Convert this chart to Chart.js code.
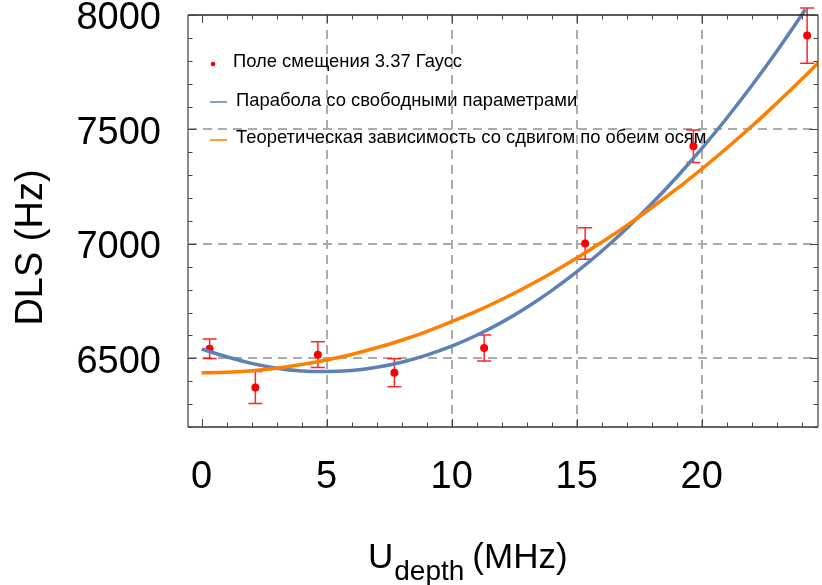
<!DOCTYPE html>
<html lang="ru">
<head>
<meta charset="utf-8">
<title>DLS (Hz) от U depth (MHz)</title>
<script src="https://cdn.jsdelivr.net/npm/chart.js@4.4.0/dist/chart.umd.min.js"></script>
<style>
  html, body { margin: 0; padding: 0; background: #fff; }
  #wrap { width: 822px; height: 585px; }
</style>
</head>
<body>
<div id="wrap"><canvas id="dlsChart" width="822" height="585"></canvas></div>
<script>
  // Экспериментальные точки (поле смещения 3.37 Гаусс)
  const pointX = [0.32, 2.15, 4.65, 7.71, 11.30, 15.34, 19.67, 24.22];
  const pointY = [6542, 6373, 6516, 6437, 6545, 7002, 7427, 7910];
  const pointErr = [43, 70, 56, 61, 57, 69, 71, 121];

  // Парабола со свободными параметрами
  const blueX = [0, 1, 2, 3, 4, 5, 6, 7, 8, 9, 10, 11, 12, 13, 14, 15, 16, 17, 18, 19, 20, 21, 22, 23, 24, 24.15];
  const blueY = [6540, 6507, 6478, 6457, 6445, 6442, 6447, 6461, 6483, 6514, 6553, 6601, 6657, 6722, 6796, 6878,
                 6968, 7067, 7175, 7291, 7416, 7549, 7691, 7841, 8000, 8025];

  // Теоретическая зависимость со сдвигом по обеим осям
  const orangeX = [0, 1, 2, 3, 4, 5, 6, 7, 8, 9, 10, 11, 12, 13, 14, 15, 16, 17, 18, 19, 20, 21, 22, 23, 24, 25];
  const orangeY = [6437, 6439, 6446, 6457, 6473, 6493, 6517, 6546, 6579, 6617, 6660, 6706, 6757, 6813, 6873, 6938,
                   7007, 7080, 7158, 7240, 7327, 7418, 7514, 7614, 7719, 7828];

  // Подписи делений
  const xTickLabels = [0, 5, 10, 15, 20];
  const yTickLabels = [6500, 7000, 7500, 8000];

  const legendLabels = [
    'Поле смещения 3.37 Гаусс',
    'Парабола со свободными параметрами',
    'Теоретическая зависимость со сдвигом по обеим осям'
  ];

  const BLUE = '#5E81B5';
  const ORANGE = '#FF8000';
  const RED = '#FF0000';
  const FONT = '"Liberation Sans", Arial, sans-serif';

  Chart.defaults.font.family = FONT;

  const toXY = (xs, ys) => xs.map((x, i) => ({ x: x, y: ys[i] }));

  // Рамка, сетка, засечки, планки погрешностей, легенда и подписи осей
  const framePlugin = {
    id: 'frame',
    beforeDatasetsDraw(chart) {
      const { ctx, chartArea: a, scales: { x, y } } = chart;
      ctx.save();

      // Пунктирная сетка
      ctx.strokeStyle = '#ababab';
      ctx.lineWidth = 2;
      ctx.setLineDash([9, 6]);
      x.ticks.forEach(t => {
        if (t.value % 5 === 0 && t.value !== 0) {
          const px = Math.round(x.getPixelForValue(t.value));
          ctx.beginPath();
          ctx.moveTo(px, a.top);
          ctx.lineTo(px, a.bottom);
          ctx.stroke();
        }
      });
      y.ticks.forEach(t => {
        if (t.value % 500 === 0 && t.value !== 8000) {
          const py = Math.round(y.getPixelForValue(t.value));
          ctx.beginPath();
          ctx.moveTo(a.left, py);
          ctx.lineTo(a.right, py);
          ctx.stroke();
        }
      });
      ctx.setLineDash([]);

      // Планки погрешностей
      ctx.strokeStyle = 'rgba(255, 0, 0, 0.85)';
      ctx.lineWidth = 1.5;
      pointX.forEach((v, i) => {
        const px = x.getPixelForValue(v);
        const top = y.getPixelForValue(pointY[i] + pointErr[i]);
        const bottom = y.getPixelForValue(pointY[i] - pointErr[i]);
        ctx.beginPath();
        ctx.moveTo(px, top);
        ctx.lineTo(px, bottom);
        ctx.moveTo(px - 7, top);
        ctx.lineTo(px + 7, top);
        ctx.moveTo(px - 7, bottom);
        ctx.lineTo(px + 7, bottom);
        ctx.stroke();
      });
      ctx.restore();
    },
    afterDatasetsDraw(chart) {
      const { ctx, chartArea: a, scales: { x, y } } = chart;
      ctx.save();

      // Рамка
      ctx.lineWidth = 1.5;
      ctx.strokeStyle = '#222';
      ctx.beginPath();
      ctx.moveTo(a.left, a.top);
      ctx.lineTo(a.right, a.top);
      ctx.stroke();
      ctx.strokeStyle = '#333';
      ctx.beginPath();
      ctx.moveTo(a.left, a.bottom);
      ctx.lineTo(a.right, a.bottom);
      ctx.stroke();
      ctx.strokeStyle = '#666';
      ctx.beginPath();
      ctx.moveTo(a.left, a.top);
      ctx.lineTo(a.left, a.bottom);
      ctx.moveTo(a.right, a.top);
      ctx.lineTo(a.right, a.bottom);
      ctx.stroke();

      // Засечки внутрь рамки
      ctx.lineWidth = 1;
      ctx.strokeStyle = '#444';
      ctx.beginPath();
      x.ticks.forEach(t => {
        const px = Math.round(x.getPixelForValue(t.value)) + 0.5;
        const len = t.value % 5 === 0 ? 8 : 4.5;
        ctx.moveTo(px, a.bottom);
        ctx.lineTo(px, a.bottom - len);
        ctx.moveTo(px, a.top);
        ctx.lineTo(px, a.top + len);
      });
      y.ticks.forEach(t => {
        const py = Math.round(y.getPixelForValue(t.value)) + 0.5;
        const len = t.value % 500 === 0 ? 8 : 4.5;
        ctx.moveTo(a.left, py);
        ctx.lineTo(a.left + len, py);
        ctx.moveTo(a.right, py);
        ctx.lineTo(a.right - len, py);
      });
      ctx.stroke();

      // Легенда
      ctx.fillStyle = RED;
      ctx.beginPath();
      ctx.arc(213, 64, 2.3, 0, Math.PI * 2);
      ctx.fill();
      ctx.lineWidth = 1.5;
      ctx.strokeStyle = BLUE;
      ctx.beginPath();
      ctx.moveTo(210, 102);
      ctx.lineTo(227, 102);
      ctx.stroke();
      ctx.strokeStyle = ORANGE;
      ctx.beginPath();
      ctx.moveTo(210, 140);
      ctx.lineTo(227, 140);
      ctx.stroke();

      ctx.fillStyle = '#000';
      ctx.font = '18.4px ' + FONT;
      ctx.textAlign = 'left';
      ctx.textBaseline = 'middle';
      ctx.fillText(legendLabels[0], 233, 62);
      ctx.fillText(legendLabels[1], 236, 100.5);
      ctx.fillText(legendLabels[2], 236, 137.5);

      // Подпись оси Y
      ctx.save();
      ctx.translate(32, 247.5);
      ctx.rotate(-Math.PI / 2);
      ctx.font = '38px ' + FONT;
      ctx.textAlign = 'center';
      ctx.fillText('DLS (Hz)', 0, 0);
      ctx.restore();

      // Подпись оси X с нижним индексом
      ctx.textBaseline = 'alphabetic';
      ctx.font = '35px ' + FONT;
      let cx = 368;
      ctx.fillText('U', cx, 568);
      cx += ctx.measureText('U').width + 1;
      ctx.font = '28px ' + FONT;
      ctx.fillText('depth', cx, 580);
      cx += ctx.measureText('depth').width + 8;
      ctx.font = '35px ' + FONT;
      ctx.fillText('(MHz)', cx, 568);

      ctx.restore();
    }
  };

  const ctx = document.getElementById('dlsChart').getContext('2d');
  const dlsChart = new Chart(ctx, {
    type: 'scatter',
    data: {
      datasets: [
        {
          label: legendLabels[1],
          data: toXY(blueX, blueY),
          showLine: true,
          borderColor: BLUE,
          borderWidth: 3.5,
          pointRadius: 0,
          cubicInterpolationMode: 'monotone',
          clip: false,
          order: 1
        },
        {
          label: legendLabels[2],
          data: toXY(orangeX, orangeY),
          showLine: true,
          borderColor: ORANGE,
          borderWidth: 3.5,
          pointRadius: 0,
          cubicInterpolationMode: 'monotone',
          order: 0
        },
        {
          label: legendLabels[0],
          data: toXY(pointX, pointY),
          showLine: false,
          pointRadius: 4,
          pointBackgroundColor: RED,
          pointBorderWidth: 0,
          order: 2
        }
      ]
    },
    options: {
      responsive: false,
      animation: false,
      layout: { padding: { top: 15, right: 0, bottom: 0, left: 0 } },
      plugins: {
        legend: { display: false },
        tooltip: { enabled: false }
      },
      scales: {
        x: {
          type: 'linear',
          min: -0.545,
          max: 24.654,
          grid: { display: false },
          border: { display: false },
          ticks: {
            stepSize: 1,
            includeBounds: false,
            autoSkip: false,
            maxRotation: 0,
            padding: 20,
            color: '#000',
            font: { size: 38 },
            callback: v => xTickLabels.includes(v) ? String(v) : ''
          },
          afterFit: s => {
            s.height = 158;
            s.paddingLeft = 0;
            s.paddingRight = 0;
          }
        },
        y: {
          type: 'linear',
          min: 6200,
          max: 8000,
          grid: { display: false },
          border: { display: false },
          ticks: {
            stepSize: 100,
            includeBounds: false,
            autoSkip: false,
            padding: 19,
            labelOffset: 4,
            color: '#000',
            font: { size: 38 },
            callback: v => yTickLabels.includes(v) ? String(v) : ''
          },
          afterFit: s => {
            s.width = 188;
            s.paddingTop = 0;
            s.paddingBottom = 0;
          }
        }
      }
    },
    plugins: [framePlugin]
  });
</script>
</body>
</html>
